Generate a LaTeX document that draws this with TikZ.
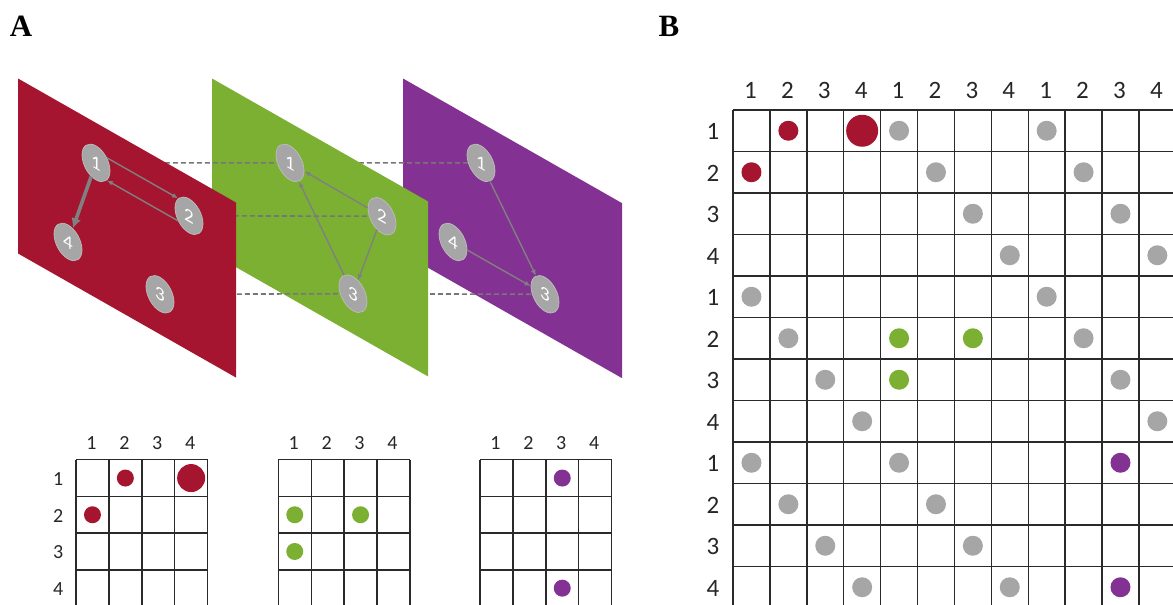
\documentclass[tikz,border=0pt]{standalone}
\usepackage{fontspec}
\setmainfont{Carlito}
\newfontfamily\panelfont{Liberation Serif}
\usetikzlibrary{arrows.meta,shapes.geometric}
\definecolor{cred}{HTML}{A51530}
\definecolor{cgreen}{HTML}{7CB033}
\definecolor{cpurple}{HTML}{833192}
\definecolor{cnode}{HTML}{A6A6A6}
\definecolor{cnodeb}{HTML}{BDBDBD}
\definecolor{cedge}{HTML}{808080}
\definecolor{cdash}{HTML}{777777}
\definecolor{cgrid}{HTML}{2A2A2A}
\definecolor{cdot}{HTML}{A6A6A6}
\pgfdeclarelayer{Lp}
\pgfdeclarelayer{Dgp}
\pgfdeclarelayer{Lg}
\pgfdeclarelayer{Drg}
\pgfdeclarelayer{Lr}
\pgfsetlayers{Lp,Dgp,Lg,Drg,Lr,main}
\begin{document}
\begin{tikzpicture}[x=1pt,y=-1pt,
  lnode/.style={ellipse, transform shape, fill=cnode, draw=cnodeb, line width=0.7pt,
    minimum width=28pt, minimum height=34pt, inner sep=0pt, text=white,
    font=\fontsize{19}{19}\selectfont},
  lnk/.style={draw=cedge, line width=1.4pt, -{Latex[length=6pt,width=5pt]}},
  biglnk/.style={draw=cedge, line width=3.6pt, -{Latex[length=10pt,width=10pt]}},
  dashln/.style={draw=cdash, line width=1.6pt, dash pattern=on 5pt off 3pt},
  gridln/.style={draw=cgrid, line width=1.4pt},
  slab/.style={font=\fontsize{20}{20}\selectfont, inner sep=0pt, text=black!85},
  blab/.style={font=\fontsize{25}{25}\selectfont, inner sep=0pt, text=black!85},
  panel/.style={font=\panelfont\bfseries\fontsize{31}{31}\selectfont, inner sep=0pt},
  layer/.style={yslant=-0.569}
]
\useasboundingbox (0,0) rectangle (1173,605);

% panel labels
\node[panel] (pA) at (21,26) {A};
\node[panel] (pB) at (669,26) {B};

% ---------- purple layer ----------
\begin{pgfonlayer}{Lp}
\begin{scope}[shift={(403,78.5)}, layer]
  \fill[cpurple] (0,0) -- (219,0) -- (219,175) -- (0,175) -- cycle;
  \node[lnode] (p1) at (78,40) {1};
  \node[lnode] (p4) at (50,135) {4};
  \node[lnode] (p3) at (142,135) {3};
\end{scope}
\draw[lnk] (p1) -- (p3);
\draw[lnk] (p4) -- (p3);
\end{pgfonlayer}

% ---------- green layer ----------
\begin{pgfonlayer}{Lg}
\begin{scope}[shift={(212,78.5)}, layer]
  \fill[cgreen] (0,0) -- (216,0) -- (216,175) -- (0,175) -- cycle;
  \node[lnode] (g1) at (78,40) {1};
  \node[lnode] (g2) at (170,41) {2};
  \node[lnode] (g3) at (141,135) {3};
\end{scope}
\draw[lnk] (g2) -- (g1);
\draw[lnk] (g3) -- (g1);
\draw[lnk] (g2) -- (g3);
\end{pgfonlayer}

% ---------- red layer ----------
\begin{pgfonlayer}{Lr}
\begin{scope}[shift={(18,78.5)}, layer]
  \fill[cred] (0,0) -- (218,0) -- (218,175) -- (0,175) -- cycle;
  \node[lnode] (r1) at (78,40) {1};
  \node[lnode] (r2) at (171,40) {2};
  \node[lnode] (r4) at (50,135) {4};
  \node[lnode] (r3) at (142,135) {3};
\end{scope}
\draw[lnk] (r1.46) -- (r2.134);
\draw[lnk] (r2.226) -- (r1.314);
\draw[biglnk] (r1) -- (r4);
\end{pgfonlayer}

% ---------- dashed correspondences ----------
\begin{pgfonlayer}{Drg}
\draw[dashln] (r1) -- (g1);
\draw[dashln] (r2) -- (g2);
\draw[dashln] (r3) -- (g3);
\end{pgfonlayer}
\begin{pgfonlayer}{Dgp}
\draw[dashln] (g1) -- (p1);
\draw[dashln] (g3) -- (p3);
\end{pgfonlayer}

% ---------- small matrices ----------
\def\sw{32.9}
\def\sh{36.7}
\def\sy{459.7}
\foreach \mx/\nm in {76/a,278.3/b,480/c}{
  \foreach \i in {0,...,4}{
    \draw[gridln] ({\mx+\i*\sw},\sy) -- ({\mx+\i*\sw},{\sy+4*\sh});
    \draw[gridln] (\mx,{\sy+\i*\sh}) -- ({\mx+4*\sw},{\sy+\i*\sh});
  }
  \foreach \c in {1,...,4}{
    \node[slab] (\nm c\c) at ({\mx+(\c-0.5)*\sw-1},443.3) {\c};
  }
}
\foreach \r in {1,...,4}{
  \node[slab] (ar\r) at (58.3,{\sy+(\r-0.5)*\sh+1}) {\r};
}
% dots of small matrices
\foreach \mx/\r/\c/\col/\rad in {76/1/2/cred/8.5, 76/1/4/cred/14, 76/2/1/cred/8.5,
    278.3/2/1/cgreen/8.5, 278.3/2/3/cgreen/8.5, 278.3/3/1/cgreen/8.5,
    480/1/3/cpurple/8.5, 480/4/3/cpurple/8.5}{
  \fill[\col] ({\mx+(\c-0.5)*\sw},{\sy+(\r-0.5)*\sh}) circle[radius=\rad];
}

% ---------- big matrix ----------
\def\bx{733}
\def\by{110}
\def\bw{36.9}
\def\bh{41.5}
\foreach \i in {0,...,12}{
  \draw[gridln] ({\bx+\i*\bw},\by) -- ({\bx+\i*\bw},{\by+12*\bh});
  \draw[gridln] (\bx,{\by+\i*\bh}) -- ({\bx+12*\bw},{\by+\i*\bh});
}
\foreach \c [evaluate=\c as \lab using {int(mod(\c-1,4)+1)}] in {1,...,12}{
  \node[blab] (bc\c) at ({\bx+(\c-0.5)*\bw-1},90) {\lab};
}
\foreach \r [evaluate=\r as \lab using {int(mod(\r-1,4)+1)}] in {1,...,12}{
  \node[blab] (br\r) at (713,{\by+(\r-0.5)*\bh+1}) {\lab};
}
\foreach \r/\c/\col/\rad in {
  1/2/cred/10, 1/4/cred/16, 1/5/cdot/10, 1/9/cdot/10,
  2/1/cred/10, 2/6/cdot/10, 2/10/cdot/10,
  3/7/cdot/10, 3/11/cdot/10,
  4/8/cdot/10, 4/12/cdot/10,
  5/1/cdot/10, 5/9/cdot/10,
  6/2/cdot/10, 6/5/cgreen/10, 6/7/cgreen/10, 6/10/cdot/10,
  7/3/cdot/10, 7/5/cgreen/10, 7/11/cdot/10,
  8/4/cdot/10, 8/12/cdot/10,
  9/1/cdot/10, 9/5/cdot/10, 9/11/cpurple/10,
  10/2/cdot/10, 10/6/cdot/10,
  11/3/cdot/10, 11/7/cdot/10,
  12/4/cdot/10, 12/8/cdot/10, 12/11/cpurple/10}{
  \fill[\col] ({\bx+(\c-0.5)*\bw},{\by+(\r-0.5)*\bh}) circle[radius=\rad];
}
\end{tikzpicture}
\end{document}
